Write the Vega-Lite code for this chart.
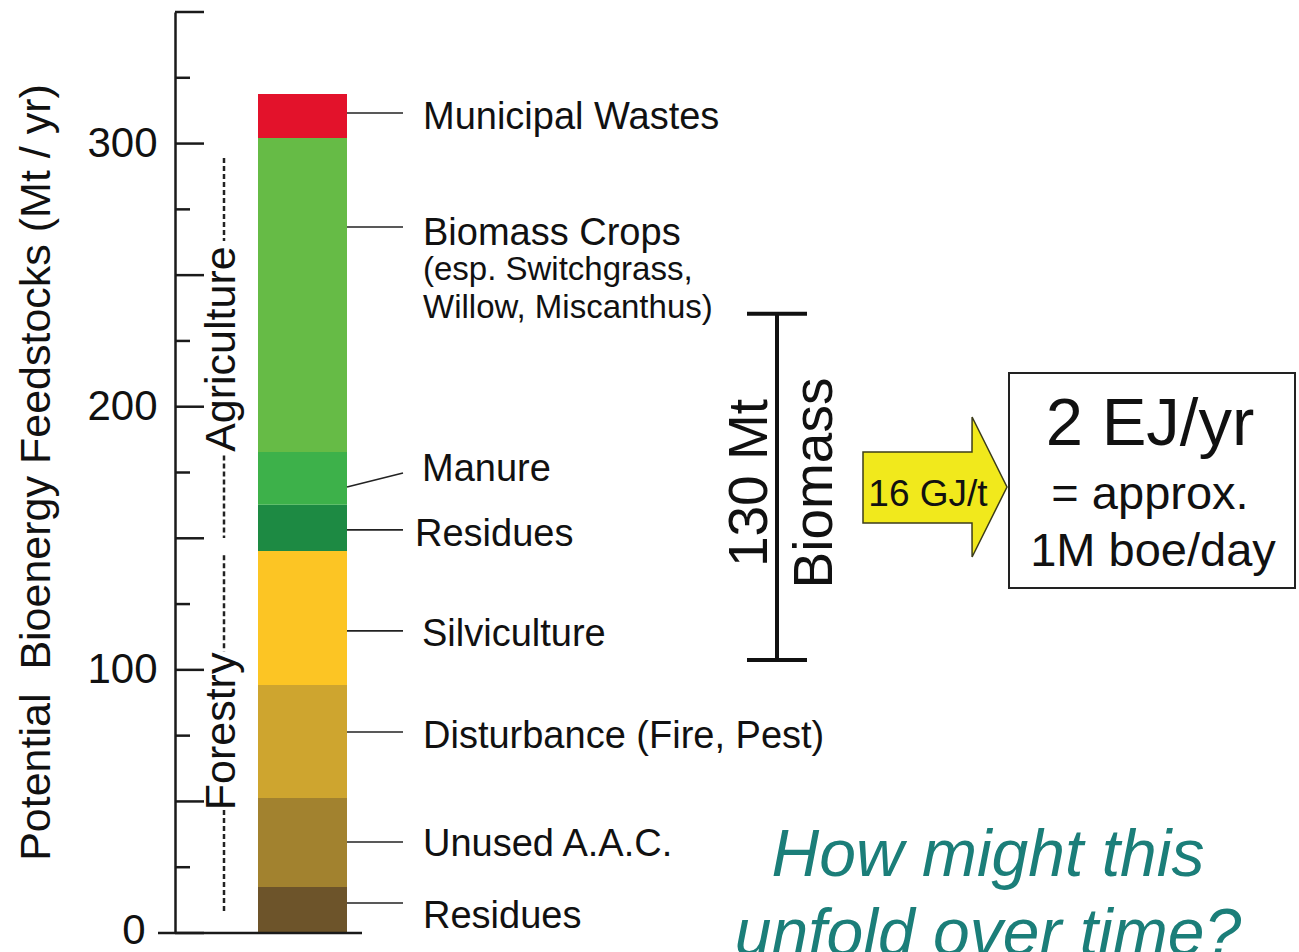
{
  "$schema": "https://vega.github.io/schema/vega-lite/v6.json",
  "width": 1124,
  "height": 921,
  "autosize": "none",
  "padding": {"left": 175, "top": 12, "right": 0, "bottom": 19},
  "background": "white",
  "config": {
    "view": {"stroke": null},
    "font": "Liberation Sans",
    "axisY": {"ticks": false, "grid": false, "domain": true, "domainColor": "#1a1a1a", "domainWidth": 2.5,
      "labelFontSize": 42, "labelColor": "#111", "labelFont": "Liberation Sans",
      "titleFontSize": 43, "titleFontWeight": "normal", "titleColor": "#111", "titleFont": "Liberation Sans"}
  },
  "layer": [
    {
      "data": {"values": [
        {"seg": "Residues (forest)", "lo": 0, "hi": 17.5},
        {"seg": "Unused A.A.C.", "lo": 17.5, "hi": 51.3},
        {"seg": "Disturbance", "lo": 51.3, "hi": 94.2},
        {"seg": "Silviculture", "lo": 94.2, "hi": 145.2},
        {"seg": "Residues (agri)", "lo": 145.2, "hi": 162.7},
        {"seg": "Manure", "lo": 162.7, "hi": 182.8},
        {"seg": "Biomass Crops", "lo": 182.8, "hi": 302.1},
        {"seg": "Municipal Wastes", "lo": 302.1, "hi": 318.8}
      ]},
      "mark": {"type": "rect"},
      "encoding": {
        "x": {"datum": 8.3, "type": "quantitative", "scale": {"domain": [0, 112.4], "nice": false, "zero": false}, "axis": null},
        "x2": {"datum": 17.2},
        "y": {"field": "lo", "type": "quantitative", "scale": {"domain": [0, 350], "nice": false, "zero": false},
          "axis": {"title": "Potential\u00a0 Bioenergy Feedstocks (Mt / yr)", "values": [0, 100, 200, 300], "ticks": false, "grid": false,
            "domain": true, "domainColor": "#1a1a1a", "domainWidth": 2.5,
            "labelFontSize": 42, "labelColor": "#111", "labelFont": "Liberation Sans",
            "labelPadding": {"condition": {"test": "datum.value === 0", "value": 30}, "value": 18},
            "labelOffset": {"condition": {"test": "datum.value === 0", "value": -3}, "value": 0},
            "titleFontSize": 43, "titleFontWeight": "normal", "titleColor": "#111", "titleFont": "Liberation Sans",
            "titleAngle": 270, "titleAlign": "center", "titleBaseline": "middle", "titleX": -139, "titleY": 460}},
        "y2": {"field": "hi"},
        "color": {"field": "seg", "type": "nominal", "legend": null,
          "scale": {"domain": ["Residues (forest)", "Unused A.A.C.", "Disturbance", "Silviculture", "Residues (agri)", "Manure", "Biomass Crops", "Municipal Wastes"],
            "range": ["#6d542a", "#a2822f", "#cea52f", "#fcc524", "#1d8a43", "#3db14a", "#66bb46", "#e3122b"]}}
      }
    },
    {
      "data": {"values": [{"v": 0}, {"v": 50}, {"v": 100}, {"v": 150}, {"v": 200}, {"v": 250}, {"v": 300}, {"v": 350}]},
      "mark": {"type": "rule", "color": "#1a1a1a", "strokeWidth": 2.5},
      "encoding": {
        "y": {"field": "v", "type": "quantitative"},
        "x": {"datum": 0, "type": "quantitative", "axis": null},
        "x2": {"datum": 2.9}
      }
    },
    {
      "data": {"values": [{"v": 25}, {"v": 75}, {"v": 125}, {"v": 175}, {"v": 225}, {"v": 275}, {"v": 325}]},
      "mark": {"type": "rule", "color": "#1a1a1a", "strokeWidth": 2.5},
      "encoding": {
        "y": {"field": "v", "type": "quantitative"},
        "x": {"datum": 0, "type": "quantitative", "axis": null},
        "x2": {"datum": 1.5}
      }
    },
    {
      "data": {"values": [{"v": 0}]},
      "mark": {"type": "rule", "color": "#1a1a1a", "strokeWidth": 2.5},
      "encoding": {
        "y": {"field": "v", "type": "quantitative"},
        "x": {"datum": -1.7, "type": "quantitative", "axis": null},
        "x2": {"datum": 18.7}
      }
    },
    {
      "data": {"values": [
        {"name": "Municipal Wastes", "y1": 311.6, "y2": 311.6},
        {"name": "Biomass Crops", "y1": 268.3, "y2": 268.3},
        {"name": "Manure", "y1": 169.5, "y2": 174.8},
        {"name": "Residues (agri)", "y1": 153.2, "y2": 153.2},
        {"name": "Silviculture", "y1": 114.8, "y2": 114.8},
        {"name": "Disturbance", "y1": 76.4, "y2": 76.4},
        {"name": "Unused A.A.C.", "y1": 34.6, "y2": 34.6},
        {"name": "Residues (forest)", "y1": 11.4, "y2": 11.4}
      ]},
      "mark": {"type": "rule", "color": "#222", "strokeWidth": 1.6},
      "encoding": {
        "y": {"field": "y1", "type": "quantitative"},
        "y2": {"field": "y2"},
        "x": {"datum": 17.2, "type": "quantitative", "axis": null},
        "x2": {"datum": 22.8}
      }
    },
    {
      "data": {"values": [
        {"label": "Municipal Wastes", "tx": 24.8, "ty": 309.7},
        {"label": "Biomass Crops", "tx": 24.8, "ty": 265.6},
        {"label": "Manure", "tx": 24.7, "ty": 176.0},
        {"label": "Residues", "tx": 24.0, "ty": 151.3},
        {"label": "Silviculture", "tx": 24.7, "ty": 113.3},
        {"label": "Disturbance (Fire, Pest)", "tx": 24.8, "ty": 74.5},
        {"label": "Unused A.A.C.", "tx": 24.8, "ty": 33.4},
        {"label": "Residues", "tx": 24.8, "ty": 6.1}
      ]},
      "mark": {"type": "text", "align": "left", "baseline": "middle", "fontSize": 38, "color": "#111"},
      "encoding": {
        "x": {"field": "tx", "type": "quantitative", "axis": null},
        "y": {"field": "ty", "type": "quantitative"},
        "text": {"field": "label"}
      }
    },
    {
      "data": {"values": [
        {"label": "(esp. Switchgrass,", "tx": 24.8, "ty": 251.8},
        {"label": "Willow, Miscanthus)", "tx": 24.8, "ty": 237.7}
      ]},
      "mark": {"type": "text", "align": "left", "baseline": "middle", "fontSize": 33, "color": "#111"},
      "encoding": {
        "x": {"field": "tx", "type": "quantitative", "axis": null},
        "y": {"field": "ty", "type": "quantitative"},
        "text": {"field": "label"}
      }
    },
    {
      "data": {"values": [
        {"label": "Agriculture", "tx": 4.7, "ty": 221.9},
        {"label": "Forestry", "tx": 4.7, "ty": 76.6}
      ]},
      "mark": {"type": "text", "align": "center", "baseline": "middle", "angle": 270, "fontSize": 43, "color": "#111"},
      "encoding": {
        "x": {"field": "tx", "type": "quantitative", "axis": null},
        "y": {"field": "ty", "type": "quantitative"},
        "text": {"field": "label"}
      }
    },
    {
      "data": {"values": [
        {"y1": 294.5, "y2": 263.0},
        {"y1": 181.5, "y2": 150.1},
        {"y1": 143.6, "y2": 107.0},
        {"y1": 46.7, "y2": 7.6}
      ]},
      "mark": {"type": "rule", "color": "#222", "strokeWidth": 2.5, "strokeDash": [5, 3]},
      "encoding": {
        "y": {"field": "y1", "type": "quantitative"},
        "y2": {"field": "y2"},
        "x": {"datum": 4.9, "type": "quantitative", "axis": null}
      }
    },
    {
      "data": {"values": [
        {"x1": 60.2, "x2": 60.2, "y1": 103.7, "y2": 235.3},
        {"x1": 57.2, "x2": 63.2, "y1": 235.3, "y2": 235.3},
        {"x1": 57.2, "x2": 63.2, "y1": 103.7, "y2": 103.7}
      ]},
      "mark": {"type": "rule", "color": "#111", "strokeWidth": 4},
      "encoding": {
        "x": {"field": "x1", "type": "quantitative", "axis": null},
        "x2": {"field": "x2"},
        "y": {"field": "y1", "type": "quantitative"},
        "y2": {"field": "y2"}
      }
    },
    {
      "data": {"values": [
        {"label": "130 Mt", "tx": 57.5, "ty": 171},
        {"label": "Biomass", "tx": 64.0, "ty": 171}
      ]},
      "mark": {"type": "text", "align": "center", "baseline": "middle", "angle": 270, "fontSize": 55, "color": "#111"},
      "encoding": {
        "x": {"field": "tx", "type": "quantitative", "axis": null},
        "y": {"field": "ty", "type": "quantitative"},
        "text": {"field": "label"}
      }
    },
    {
      "data": {"values": [
        {"ax": 68.8, "top": 182.8, "bot": 155.8},
        {"ax": 79.7, "top": 182.8, "bot": 155.8},
        {"ax": 79.71, "top": 196.1, "bot": 142.9},
        {"ax": 83.2, "top": 169.5, "bot": 169.5}
      ]},
      "mark": {"type": "area", "orient": "vertical", "interpolate": "linear", "fill": "#f1e91c", "stroke": "#3d3d1a", "strokeWidth": 1.5, "fillOpacity": 1},
      "encoding": {
        "x": {"field": "ax", "type": "quantitative", "axis": null},
        "y": {"field": "top", "type": "quantitative"},
        "y2": {"field": "bot"}
      }
    },
    {
      "data": {"values": [{"label": "16 GJ/t", "tx": 75.3, "ty": 166.4}]},
      "mark": {"type": "text", "align": "center", "baseline": "middle", "fontSize": 37, "color": "#111"},
      "encoding": {
        "x": {"field": "tx", "type": "quantitative", "axis": null},
        "y": {"field": "ty", "type": "quantitative"},
        "text": {"field": "label"}
      }
    },
    {
      "data": {"values": [{"x1": 83.4, "x2": 112.0, "y1": 131.1, "y2": 212.8}]},
      "mark": {"type": "rect", "fill": "white", "stroke": "#222", "strokeWidth": 2},
      "encoding": {
        "x": {"field": "x1", "type": "quantitative", "axis": null},
        "x2": {"field": "x2"},
        "y": {"field": "y1", "type": "quantitative"},
        "y2": {"field": "y2"}
      }
    },
    {
      "data": {"values": [{"label": "2 EJ/yr", "tx": 97.5, "ty": 193.1}]},
      "mark": {"type": "text", "align": "center", "baseline": "middle", "fontSize": 67, "color": "#111"},
      "encoding": {
        "x": {"field": "tx", "type": "quantitative", "axis": null},
        "y": {"field": "ty", "type": "quantitative"},
        "text": {"field": "label"}
      }
    },
    {
      "data": {"values": [
        {"label": "= approx.", "tx": 97.5, "ty": 166.4},
        {"label": "1M boe/day", "tx": 97.8, "ty": 144.8}
      ]},
      "mark": {"type": "text", "align": "center", "baseline": "middle", "fontSize": 47, "color": "#111"},
      "encoding": {
        "x": {"field": "tx", "type": "quantitative", "axis": null},
        "y": {"field": "ty", "type": "quantitative"},
        "text": {"field": "label"}
      }
    },
    {
      "data": {"values": [
        {"label": "How might this", "tx": 81.3, "ty": 21.7},
        {"label": "unfold over time?", "tx": 81.3, "ty": -8.4}
      ]},
      "mark": {"type": "text", "align": "center", "baseline": "alphabetic", "fontSize": 66, "fontStyle": "italic", "color": "#1b7e79"},
      "encoding": {
        "x": {"field": "tx", "type": "quantitative", "axis": null},
        "y": {"field": "ty", "type": "quantitative"},
        "text": {"field": "label"}
      }
    }
  ]
}
